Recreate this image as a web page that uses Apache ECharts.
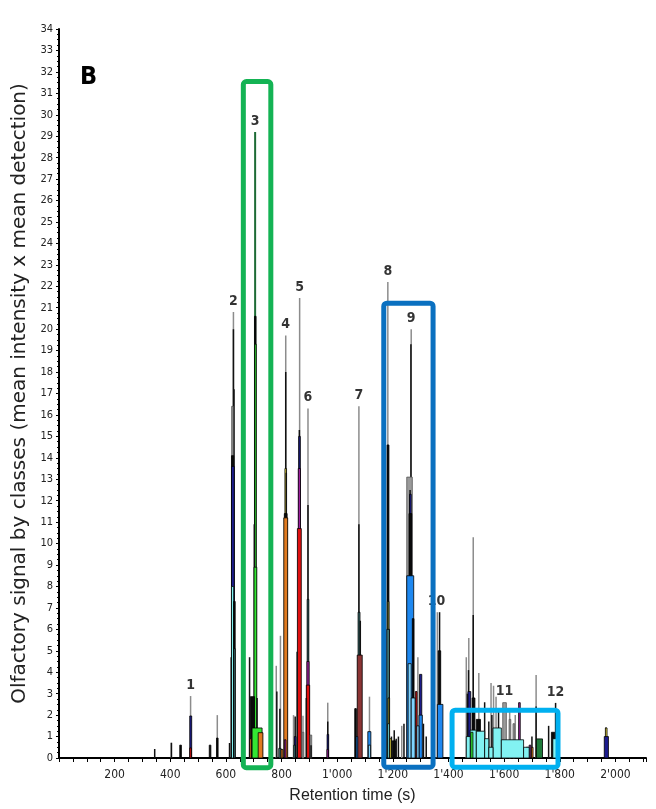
<!DOCTYPE html>
<html><head><meta charset="utf-8">
<script src="https://cdn.jsdelivr.net/npm/echarts@6/dist/echarts.min.js"></script>
<style>html,body{margin:0;padding:0;background:#fff}#c{width:656px;height:809px}</style>
</head><body><div id="c"></div>
<script>
// ---- data (retention time in s, olfactory signal) ----
const xTickValues = [200,400,600,800,1000,1200,1400,1600,1800,2000];
const xTickLabels = ['200','400','600','800',"1'000","1'200","1'400","1'600","1'800","2'000"];

// thin peaks: [time, value]
const spikeGray = [[404,0.71],[473,2.89],[569,2.0],[627,20.8],[781,4.3],[796,5.7],[815,19.7],[843,2.0],[865,21.45],[877,1.97],[895,16.3],[966,2.58],[1066,2.33],[1078,16.4],[1116,2.86],[1182,22.2],[1232,1.5],[1266,20.0],[1290,4.7],[1340,1.5],[1360,6.8],[1464,4.7],[1473,5.6],[1489,10.3],[1509,3.96],[1553,3.5],[1562,3.37],[1571,2.86],[1620,2.3],[1640,2.0],[1715,3.87],[1966,1.45]];
const spikeBlack = [[344,0.42],[404,0.71],[613,0.7],[619,4.7],[627,20.0],[629,17.2],[685,4.7],[702,10.9],[712,2.8],[783,3.1],[794,2.3],[815,18.0],[817,13.3],[849,1.93],[856,4.96],[864,15.3],[889,2.8],[895,11.8],[906,0.6],[966,1.7],[1078,10.9],[1083,6.4],[1195,1.0],[1205,1.3],[1212,0.9],[1220,1.0],[1240,1.6],[1262,12.5],[1265,19.3],[1310,1.6],[1320,1.0],[1368,6.8],[1468,3.0],[1472,4.1],[1489,6.67],[1530,2.6],[1545,1.7],[1556,2.0],[1580,2.2],[1700,1.0],[1715,2.4],[1760,1.5],[1785,2.57]];
const spikeDarkGreen = [[705,29.2]];

// filled classes: [start time, end time, value]
const fillGray = [[621,626,16.4],[874,880,1.2],[903,908,1.07],[1250,1270,13.1],[1595,1608,2.58],[1618,1624,1.8],[1632,1638,1.6]];
const fillBlack = [[434,440,0.6],[541,545,0.6],[567,571,0.93],[620,628,14.1],[628,633,7.3],[688,703,2.86],[704,707,20.6],[810,820,11.4],[1064,1068,2.3],[1179,1186,14.6],[1198,1210,0.8],[1258,1268,11.4],[1270,1276,6.5],[1363,1372,5.0],[1485,1495,2.8],[1500,1515,1.8],[1770,1782,1.2]];
const fillNavy = [[470,477,1.96],[620,630,13.6],[846,852,1.0],[862,867,15.0],[964,969,1.1],[1260,1266,12.3],[1296,1304,3.9],[1470,1480,3.1],[1680,1688,0.5],[1960,1975,1.0]];
const fillBlue = [[1068,1074,1.0],[1110,1121,1.23],[1250,1275,8.5],[1294,1306,2.0],[1360,1380,2.5]];
const fillLightBlue = [[1112,1120,0.6],[1255,1266,4.4],[1266,1280,2.8],[1286,1294,1.5]];
const fillCyan = [[620,628,8.0],[1181,1187,1.6],[1464,1478,1.0],[1478,1500,1.3],[1500,1530,1.25],[1530,1545,0.9],[1545,1560,0.5],[1560,1590,1.4],[1590,1670,0.85],[1670,1690,0.5],[1775,1792,0.9]];
const fillTeal = [[628,633,5.1],[790,798,0.45],[844,850,0.6],[892,898,7.4],[1075,1082,6.8],[1178,1188,6.0]];
const fillRed = [[470,476,0.47],[857,871,10.7],[889,901,3.4],[1281,1287,3.1]];
const fillDarkRed = [[1072,1090,4.8]];
const fillMagenta = [[810,816,0.85],[860,868,13.5],[891,899,4.5],[964,968,0.4],[1652,1658,2.58],[1690,1696,0.6]];
const fillOrange = [[686,692,0.9],[716,733,1.18],[798,805,0.4],[808,822,11.2],[1698,1704,0.5]];
const fillYellow = [[813,817,13.5],[1188,1194,0.9],[1964,1970,1.4]];
const fillOlive = [[1180,1186,7.3],[1183,1188,2.8]];
const fillGreen = [[694,730,1.4],[701,711,8.9],[704,708,19.3],[1480,1488,1.2]];
const fillDarkGreen = [[1716,1738,0.89]];

// numbered odour zones: [number, time, value]
const peakLabels = [['1',473,2.89],['2',627,20.8],['3',705,29.2],['4',815,19.7],['5',865,21.45],['6',895,16.3],['7',1078,16.4],['8',1182,22.2],['9',1266,20.0],['10',1357,6.8],['11',1601,2.58],['12',1785,2.57]];

// highlighted zones: [start time, end time, low value, high value]
const zoneGreen = [662.6,761.4,-0.45,31.55];
const zoneBlue = [1167.4,1344.6,-0.43,21.21];
const zoneLightBlue = [1412.9,1793.7,-0.43,2.23];

// ---- styles ----
const kinds = [
  {d: spikeGray, spike: true, color: '#8c8c8c', w: 1.5},
  {d: spikeBlack, spike: true, color: '#111111', w: 1.5},
  {d: spikeDarkGreen, spike: true, color: '#1d6b35', w: 2},
  {d: fillGray, color: '#9a9a9a', stroke: '#555'},
  {d: fillBlack, color: '#0a0a0a', stroke: '#000'},
  {d: fillNavy, color: '#1c1c8e', stroke: '#000'},
  {d: fillBlue, color: '#1e88f0', stroke: '#000'},
  {d: fillLightBlue, color: '#7fd4ff', stroke: '#000'},
  {d: fillCyan, color: '#82f2f2', stroke: '#000'},
  {d: fillTeal, color: '#3f7272', stroke: '#000'},
  {d: fillRed, color: '#e01010', stroke: '#000'},
  {d: fillDarkRed, color: '#8b3434', stroke: '#000'},
  {d: fillMagenta, color: '#a020a0', stroke: '#000'},
  {d: fillOrange, color: '#e07a20', stroke: '#000'},
  {d: fillYellow, color: '#e8d840', stroke: '#000'},
  {d: fillOlive, color: '#9a9a38', stroke: '#000'},
  {d: fillGreen, color: '#33e633', stroke: '#000'},
  {d: fillDarkGreen, color: '#1e7a3a', stroke: '#000'}
];
const items = [];
kinds.forEach((k, ki) => {
  k.d.forEach(p => {
    if (k.spike) items.push([p[0], p[0], p[1], ki]);
    else items.push([p[0], p[1], p[2], ki]);
  });
});
items.sort((a, b) => b[2] - a[2]);

const zones = [zoneGreen, zoneBlue, zoneLightBlue];
const zoneColors = ['#14b354', '#0a70c0', '#00b0f0'];

const chart = echarts.init(document.getElementById('c'), null, {renderer: 'canvas'});
const narrow = '"DejaVu Sans Condensed", "Liberation Sans", sans-serif';
chart.setOption({
  animation: false,
  backgroundColor: '#fff',
  grid: {left: 59, right: 10, top: 29, bottom: 51},
  graphic: [{type: 'text', left: 80, top: 65, style: {text: 'B', font: 'bold 25px ' + narrow, fill: '#000'}}],
  xAxis: {
    type: 'value', min: 0, max: 2110, interval: 50,
    name: 'Retention time (s)', nameLocation: 'middle', nameGap: 30,
    nameTextStyle: {fontFamily: '"Liberation Sans", Arial, sans-serif', fontSize: 16, color: '#222'},
    axisLine: {lineStyle: {color: '#000', width: 2}},
    axisTick: {length: 4, lineStyle: {color: '#000', width: 1}},
    splitLine: {show: false},
    axisLabel: {margin: 11, fontFamily: narrow, fontSize: 12, color: '#222',
      formatter: v => { const i = xTickValues.indexOf(v); return i >= 0 ? xTickLabels[i] : ''; }}
  },
  yAxis: {
    type: 'value', min: 0, max: 34, interval: 1,
    name: 'Olfactory signal by classes (mean intensity x mean detection)',
    nameLocation: 'middle', nameGap: 22,
    nameTextStyle: {fontFamily: '"DejaVu Sans", sans-serif', fontSize: 20, color: '#222'},
    axisLine: {lineStyle: {color: '#000', width: 2}},
    axisTick: {length: 3, lineStyle: {color: '#000'}},
    minorTick: {show: true, splitNumber: 4, length: 2, lineStyle: {color: '#000'}},
    splitLine: {show: false},
    axisLabel: {margin: 6, fontFamily: narrow, fontSize: 11, color: '#222'}
  },
  series: [
    {
      type: 'custom', z: 2, clip: false,
      data: items,
      encode: {x: [0, 1], y: 2},
      renderItem: (params, api) => {
        const k = kinds[api.value(3)];
        const a = api.coord([api.value(0), api.value(2)]);
        const b = api.coord([api.value(1), 0]);
        let x = a[0], w = b[0] - a[0];
        const minW = k.spike ? (k.w || 1.3) : 1.6;
        if (w < minW) { x = (a[0] + b[0]) / 2 - minW / 2; w = minW; }
        return {
          type: 'rect',
          shape: {x: x, y: a[1], width: w, height: b[1] - a[1]},
          style: k.spike ? {fill: k.color} : {fill: k.color, stroke: k.stroke, lineWidth: 0.8}
        };
      }
    },
    {
      type: 'scatter', z: 3, symbolSize: 0,
      data: peakLabels.map(p => ({name: p[0], value: [p[1], p[2]]})),
      label: {show: true, position: 'top', distance: 4, formatter: '{b}',
        fontFamily: narrow, fontWeight: 'bold', fontSize: 14, color: '#000'}
    },
    {
      type: 'custom', z: 5, clip: false,
      data: zones.map((z, i) => [z[0], z[1], z[2], z[3], i]),
      encode: {x: [0, 1], y: [2, 3]},
      renderItem: (params, api) => {
        const a = api.coord([api.value(0), api.value(3)]);
        const b = api.coord([api.value(1), api.value(2)]);
        return {
          type: 'rect',
          shape: {x: a[0], y: a[1], width: b[0] - a[0], height: b[1] - a[1], r: 3},
          style: {fill: 'none', stroke: zoneColors[api.value(4)], lineWidth: 5}
        };
      }
    }
  ]
});
</script>
</body></html>
